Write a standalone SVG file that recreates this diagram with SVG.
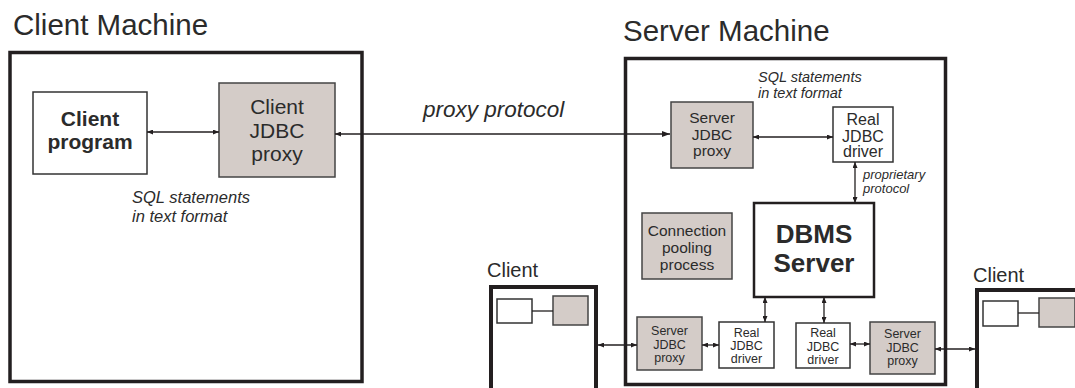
<svg xmlns="http://www.w3.org/2000/svg" width="1075" height="388" viewBox="0 0 1075 388">
<defs>
<marker id="ah" viewBox="0 0 8 6" refX="8" refY="3" markerWidth="8" markerHeight="6" markerUnits="userSpaceOnUse" orient="auto-start-reverse">
<path d="M0,0 L8,3 L0,6 z" fill="#231f20"/>
</marker>
<marker id="as" viewBox="0 0 6 5" refX="6" refY="2.5" markerWidth="6" markerHeight="5" markerUnits="userSpaceOnUse" orient="auto-start-reverse">
<path d="M0,0 L6,2.5 L0,5 z" fill="#231f20"/>
</marker>
</defs>
<style>
text{font-family:"Liberation Sans",Arial,sans-serif;fill:#2b2b2b}
.t{font-size:29.5px}
.frame{fill:none;stroke:#231f20;stroke-width:3.5}
.wb{fill:#fff;stroke:#333;stroke-width:1.5}
.gb{fill:#d4ccc8;stroke:#444;stroke-width:1.5}
.c{text-anchor:middle}
.it{font-style:italic}
.ln{stroke:#231f20;stroke-width:1.3;fill:none}
</style>
<rect width="1075" height="388" fill="#fff"/>

<g id="client-machine">
<text class="t" x="13" y="35">Client Machine</text>
<rect class="frame" x="10" y="52.5" width="352" height="329"/>
</g>
<g id="client-program">
<rect class="wb" x="33" y="92" width="114" height="82" stroke-width="2"/>
<text class="c" x="90" y="126" font-size="21" font-weight="bold">Client</text>
<text class="c" x="90" y="149" font-size="21" font-weight="bold">program</text>
</g>
<g id="client-jdbc-proxy">
<rect class="gb" x="219" y="83" width="116" height="94"/>
<text class="c" x="277" y="114" font-size="21">Client</text>
<text class="c" x="277" y="138" font-size="21">JDBC</text>
<text class="c" x="277" y="161" font-size="21">proxy</text>
</g>
<g id="label-sql-client">
<text class="it" x="132" y="203" font-size="16.5">SQL statements</text>
<text class="it" x="132" y="222" font-size="16.5">in text format</text>
</g>

<g id="server-machine">
<text class="t" x="623" y="41">Server Machine</text>
<rect class="frame" x="625.5" y="58.5" width="320" height="326"/>
</g>
<g id="proxy-protocol-label">
<text class="it" x="423" y="117" font-size="22.5">proxy protocol</text>
</g>
<g id="server-jdbc-proxy-top">
<rect class="gb" x="671" y="102" width="82" height="66"/>
<text class="c" x="712" y="123" font-size="15.5">Server</text>
<text class="c" x="712" y="140" font-size="15.5">JDBC</text>
<text class="c" x="712" y="156" font-size="15.5">proxy</text>
</g>
<g id="real-jdbc-driver-top">
<rect class="wb" x="833" y="107" width="60" height="55"/>
<text class="c" x="863" y="125" font-size="16">Real</text>
<text class="c" x="863" y="142" font-size="16">JDBC</text>
<text class="c" x="863" y="157" font-size="16">driver</text>
</g>
<g id="label-sql-server">
<text class="it" x="758" y="82" font-size="14.5">SQL statements</text>
<text class="it" x="758" y="98" font-size="14.5">in text format</text>
</g>
<g id="label-proprietary">
<text class="it" x="863" y="179" font-size="13">proprietary</text>
<text class="it" x="863" y="193" font-size="13">protocol</text>
</g>
<g id="dbms-server">
<rect x="754" y="203" width="120" height="94" fill="#fff" stroke="#231f20" stroke-width="2.5"/>
<text class="c" x="814" y="243" font-size="26" font-weight="bold">DBMS</text>
<text class="c" x="814" y="272" font-size="26" font-weight="bold">Server</text>
</g>
<g id="connection-pooling">
<rect class="gb" x="642" y="213" width="90" height="66"/>
<text class="c" x="687" y="236" font-size="15.5">Connection</text>
<text class="c" x="687" y="253" font-size="15.5">pooling</text>
<text class="c" x="687" y="270" font-size="15.5">process</text>
</g>
<g id="server-jdbc-proxy-bl">
<rect class="gb" x="637" y="317" width="65" height="53"/>
<text class="c" x="669.5" y="335" font-size="12.5">Server</text>
<text class="c" x="669.5" y="349" font-size="12.5">JDBC</text>
<text class="c" x="669.5" y="362" font-size="12.5">proxy</text>
</g>
<g id="real-jdbc-driver-bl">
<rect class="wb" x="719" y="322" width="55" height="46" stroke-width="1.2"/>
<text class="c" x="746.5" y="337" font-size="12.5">Real</text>
<text class="c" x="746.5" y="350" font-size="12.5">JDBC</text>
<text class="c" x="746.5" y="363" font-size="12.5">driver</text>
</g>
<g id="real-jdbc-driver-br">
<rect class="wb" x="796" y="323" width="54" height="45" stroke-width="1.2"/>
<text class="c" x="823" y="337" font-size="12.5">Real</text>
<text class="c" x="823" y="351" font-size="12.5">JDBC</text>
<text class="c" x="823" y="364" font-size="12.5">driver</text>
</g>
<g id="server-jdbc-proxy-br">
<rect class="gb" x="870" y="322" width="65" height="52"/>
<text class="c" x="902.5" y="338" font-size="12.5">Server</text>
<text class="c" x="902.5" y="352" font-size="12.5">JDBC</text>
<text class="c" x="902.5" y="365" font-size="12.5">proxy</text>
</g>

<g id="client-left">
<text x="487" y="277" font-size="20">Client</text>
<rect x="491" y="287" width="105" height="110" fill="none" stroke="#231f20" stroke-width="4"/>
<rect class="wb" x="497" y="299" width="35" height="24" stroke-width="1.8" stroke="#231f20"/>
<rect class="gb" x="553" y="296" width="35" height="29"/>
<line class="ln" x1="532" y1="311" x2="553" y2="311"/>
</g>
<g id="client-right">
<text x="973" y="282" font-size="20">Client</text>
<rect x="977" y="290" width="110" height="110" fill="none" stroke="#231f20" stroke-width="4"/>
<rect class="wb" x="983" y="301" width="35" height="25" stroke-width="1.8" stroke="#231f20"/>
<rect class="gb" x="1039" y="298" width="36" height="29"/>
<line class="ln" x1="1018" y1="313" x2="1039" y2="313"/>
</g>

<g id="connectors">
<line class="ln" x1="147" y1="132" x2="219" y2="132" marker-start="url(#as)" marker-end="url(#as)"/>
<line class="ln" x1="335" y1="134" x2="670" y2="134" marker-start="url(#as)" marker-end="url(#ah)"/>
<line class="ln" x1="753" y1="137" x2="833" y2="137" marker-start="url(#as)" marker-end="url(#as)"/>
<line class="ln" x1="855" y1="162" x2="855" y2="203" marker-start="url(#as)" marker-end="url(#as)"/>
<line class="ln" x1="765" y1="297" x2="765" y2="322" marker-start="url(#as)" marker-end="url(#as)"/>
<line class="ln" x1="824" y1="297" x2="824" y2="323" marker-start="url(#as)" marker-end="url(#as)"/>
<line class="ln" x1="598" y1="345" x2="637" y2="345" marker-start="url(#as)" marker-end="url(#as)"/>
<line class="ln" x1="702" y1="345" x2="719" y2="345" marker-start="url(#as)" marker-end="url(#as)"/>
<line class="ln" x1="850" y1="344" x2="870" y2="344" marker-start="url(#as)" marker-end="url(#as)"/>
<line class="ln" x1="935" y1="349" x2="975" y2="349" marker-start="url(#as)" marker-end="url(#as)"/>
</g>
</svg>
